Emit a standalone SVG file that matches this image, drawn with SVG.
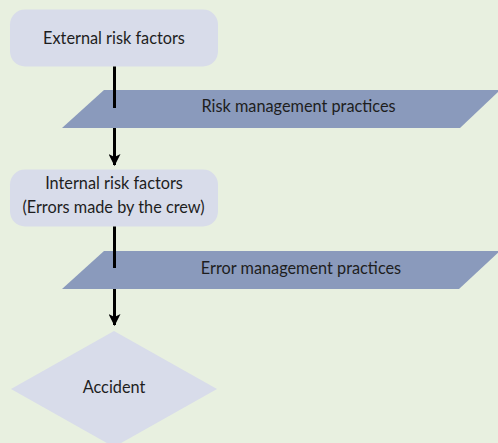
<svg xmlns="http://www.w3.org/2000/svg" width="498" height="443" viewBox="0 0 498 443">
<style>
.bg{fill:#e8f0e0}
.box{fill:#d8dcea}
.para{fill:#8a9abc}
.t{font-family:Lato,"Open Sans",sans-serif;font-size:16.3px;fill:#1e1e1e;text-anchor:middle}
.ln{stroke:#000;stroke-width:3;fill:none}
</style>
<defs>
<marker id="ah" viewBox="0 0 12 12" refX="11" refY="6" markerWidth="12" markerHeight="12" markerUnits="userSpaceOnUse" orient="auto">
<path d="M0,0 L12,6 L0,12 L3,6 Z" fill="#000"/>
</marker>
</defs>
<rect class="bg" x="0" y="0" width="498" height="443"/>
<g id="external">
<rect class="box" x="10" y="9.5" width="208" height="57" rx="15"/>
<text class="t" x="114" y="44">External risk factors</text>
</g>
<g id="risk-management">
<polygon class="para" points="104,90 500,90 460,128 62,128"/>
<text class="t" x="298.5" y="112">Risk management practices</text>
</g>
<g id="internal">
<rect class="box" x="10" y="169.5" width="208" height="57" rx="15"/>
<text class="t" x="114" y="189">Internal risk factors</text>
<text class="t" x="113.5" y="212.5">(Errors made by the crew)</text>
</g>
<g id="error-management">
<polygon class="para" points="104,251 500,251 459,289 62,289"/>
<text class="t" x="301" y="274">Error management practices</text>
</g>
<g id="accident">
<polygon class="box" points="114,331 217,389 114,447 11,389"/>
<text class="t" x="114" y="393">Accident</text>
</g>
<g id="connectors">
<line class="ln" x1="114.5" y1="66.5" x2="114.5" y2="108"/>
<line class="ln" x1="114.5" y1="128" x2="114.5" y2="165" marker-end="url(#ah)"/>
<line class="ln" x1="114.5" y1="226.5" x2="114.5" y2="268"/>
<line class="ln" x1="114.5" y1="289" x2="114.5" y2="325" marker-end="url(#ah)"/>
</g>
</svg>
